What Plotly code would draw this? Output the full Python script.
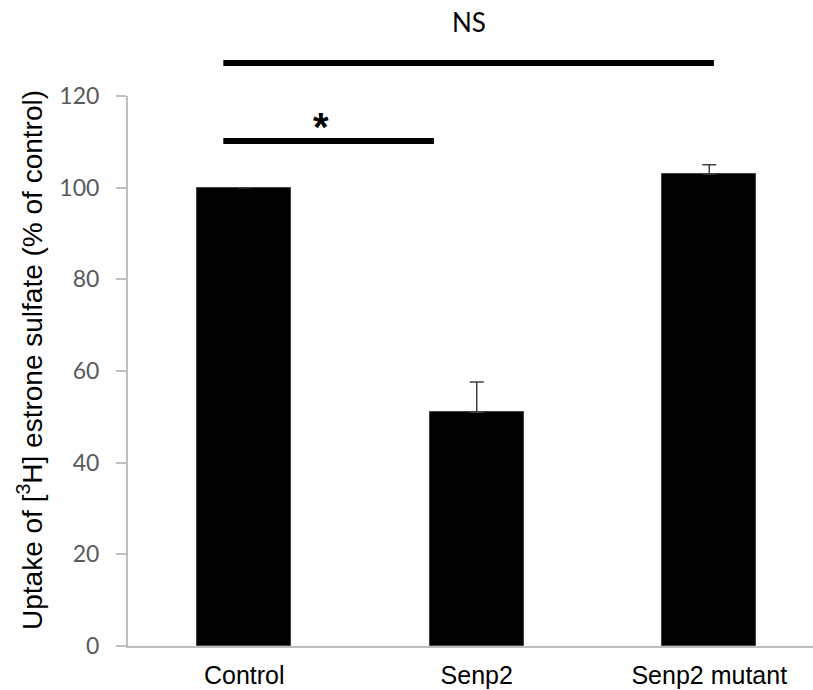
import plotly.graph_objects as go

# ---- data ----
categories = ["Control", "Senp2", "Senp2 mutant"]
uptake = [100, 51, 103]
error_plus = [None, 6.6, 2.0]
y_ticks = [0, 20, 40, 60, 80, 100, 120]

# significance brackets: (label, start category index, end category index, height)
sig_labels = ["*", "NS"]
sig_start = [0, 0]
sig_end = [1, 2]
sig_height = [110.2, 127.2]

Y_MAX = 120
PLOT_L, PLOT_T, PLOT_B = 128, 95.7, 44.3
W, H = 813, 690
cat_px = 232.5
x_right = -0.5 + (W - PLOT_L) / cat_px

fig = go.Figure()
fig.add_trace(go.Bar(
    x=list(range(len(categories))),
    y=uptake,
    width=0.404,
    marker=dict(color="black", line=dict(color="#404040", width=1)),
    error_y=dict(type="data", symmetric=False, array=error_plus,
                 arrayminus=[0] * len(categories),
                 color="#404040", thickness=1.5, width=7),
    showlegend=False,
))

shapes = []
annotations = []
for lab, s, e, h in zip(sig_labels, sig_start, sig_end, sig_height):
    x0 = s - 0.09
    x1 = e - 0.184 if e == 1 else e + 0.02
    shapes.append(dict(type="line", xref="x", yref="paper",
                       x0=x0, x1=x1, y0=h / Y_MAX, y1=h / Y_MAX,
                       line=dict(color="black", width=6)))
    if lab == "*":
        annotations.append(dict(text="<b>*</b>", xref="x", yref="paper",
                                x=0.33, y=(h + 3.0) / Y_MAX, showarrow=False,
                                xanchor="center", yanchor="middle",
                                font=dict(family="Liberation Sans", size=40, color="black")))
    else:
        annotations.append(dict(text="NS", xref="x", yref="paper",
                                x=(x0 + x1) / 2, y=(h + 8.9) / Y_MAX, showarrow=False,
                                xanchor="center", yanchor="middle",
                                font=dict(family="Lato", size=26, color="black")))

annotations.append(dict(
    text="Uptake of [<sup>3</sup>H] estrone sulfate (% of control)",
    xref="paper", yref="paper", x=(30 - PLOT_L) / (W - PLOT_L), y=0.52,
    textangle=-90, showarrow=False, xanchor="center", yanchor="middle",
    font=dict(family="Liberation Sans", size=28, color="black")))

fig.update_layout(
    width=W, height=H,
    margin=dict(l=PLOT_L, r=0, t=PLOT_T, b=PLOT_B, pad=0),
    plot_bgcolor="white", paper_bgcolor="white",
    shapes=shapes, annotations=annotations,
    bargap=0,
)
fig.update_xaxes(
    range=[-0.5, x_right],
    tickvals=list(range(len(categories))), ticktext=categories,
    showline=True, linecolor="#bfbfbf", linewidth=2,
    ticks="", showgrid=False, zeroline=False,
    tickfont=dict(family="Liberation Sans", size=25, color="black"),
    ticklabelstandoff=6,
)
fig.update_yaxes(
    range=[0, Y_MAX], tickvals=y_ticks,
    showline=True, linecolor="#bfbfbf", linewidth=2,
    ticks="outside", ticklen=10, tickcolor="#bfbfbf", tickwidth=1.5,
    showgrid=False, zeroline=False,
    tickfont=dict(family="Lato", size=23, color="#595959"),
    ticklabelstandoff=12,
)

fig.write_html("out.html", config={"displayModeBar": False},
               post_script="document.body.style.margin='0px';document.body.style.overflow='hidden';")
